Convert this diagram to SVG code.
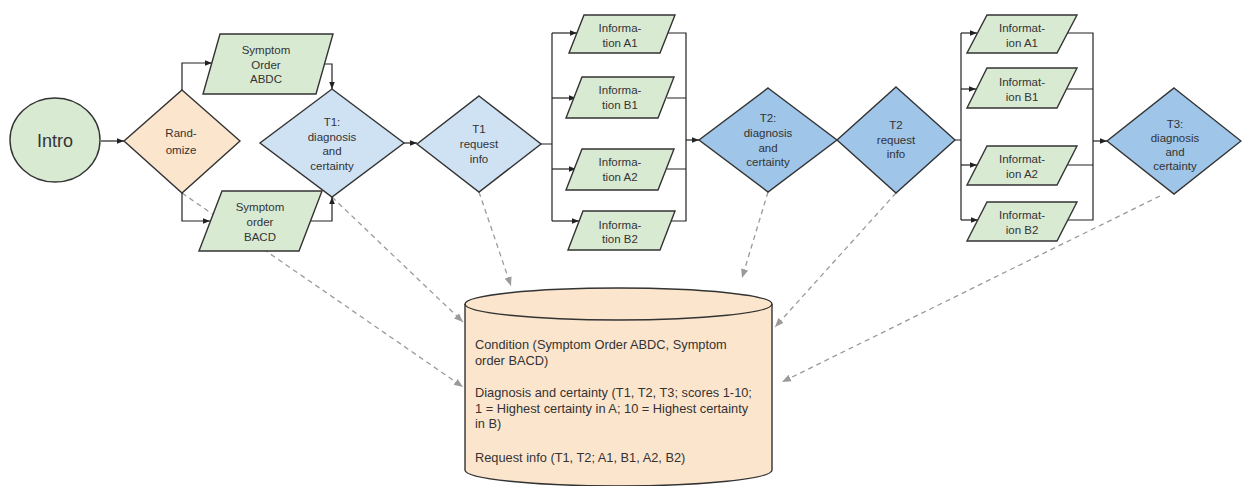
<svg xmlns="http://www.w3.org/2000/svg" width="1242" height="486" viewBox="0 0 1242 486">
<defs>
<marker id="ah" viewBox="0 0 10 10" refX="10" refY="5" markerWidth="7" markerHeight="7" markerUnits="userSpaceOnUse" orient="auto">
<path d="M0,1 L10,5 L0,9 Z" fill="#222"/>
</marker>
<marker id="ahd" viewBox="0 0 10 10" refX="10" refY="5" markerWidth="9" markerHeight="9" markerUnits="userSpaceOnUse" orient="auto">
<path d="M0,1 L10,5 L0,9 Z" fill="#9a9a9a"/>
</marker>
<style>
.n{stroke:#333;stroke-width:1.4}
.g{fill:#d9ead3}
.o{fill:#fce5cd}
.lb{fill:#cfe2f3}
.db{fill:#9fc5e8}
text{font-family:"Liberation Sans",Arial,sans-serif;fill:#333;text-anchor:middle;font-size:11.5px}
.c{stroke:#222;stroke-width:1.2;fill:none}
.d{stroke:#9a9a9a;stroke-width:1.3;fill:none;stroke-dasharray:5 4}
.cyl text{text-anchor:start;font-size:12.8px}
</style>
</defs>
<g id="connectors">
<path class="d" d="M182,193 L463,387" marker-end="url(#ahd)"/>
<path class="d" d="M332,197 L463,322" marker-end="url(#ahd)"/>
<path class="d" d="M479,192 L511,286" marker-end="url(#ahd)"/>
<path class="d" d="M768,192 L742,278" marker-end="url(#ahd)"/>
<path class="d" d="M896,193 L775,327" marker-end="url(#ahd)"/>
<path class="d" d="M1160,196 L782,382" marker-end="url(#ahd)"/>
<path class="c" d="M101,141 H124" marker-end="url(#ah)"/>
<path class="c" d="M182,90 V63 H212" marker-end="url(#ah)"/>
<path class="c" d="M182,193 V221 H210" marker-end="url(#ah)"/>
<path class="c" d="M324,64 H332 V89" marker-end="url(#ah)"/>
<path class="c" d="M310,221 H332 V197" marker-end="url(#ah)"/>
<path class="c" d="M404,143 H417" marker-end="url(#ah)"/>
<path class="c" d="M541,144 H552 M552,33 V221"/>
<path class="c" d="M552,33 H577" marker-end="url(#ah)"/>
<path class="c" d="M552,98 H576" marker-end="url(#ah)"/>
<path class="c" d="M552,169 H576" marker-end="url(#ah)"/>
<path class="c" d="M552,221 H579" marker-end="url(#ah)"/>
<path class="c" d="M668,33 H686 V221 H671 M667,98 H686 M667,169 H686"/>
<path class="c" d="M686,140 H699" marker-end="url(#ah)"/>
<path class="c" d="M955,140 H961 M961,33 V220"/>
<path class="c" d="M961,33 H977" marker-end="url(#ah)"/>
<path class="c" d="M961,89 H976" marker-end="url(#ah)"/>
<path class="c" d="M961,165 H977" marker-end="url(#ah)"/>
<path class="c" d="M961,220 H978" marker-end="url(#ah)"/>
<path class="c" d="M1067,33 H1093 V220 H1068 M1066,89 H1093 M1067,165 H1093"/>
<path class="c" d="M1093,141 H1107" marker-end="url(#ah)"/>
</g>
<g id="intro">
<ellipse class="n g" cx="55" cy="140" rx="45" ry="42"/>
<text x="55" y="147" style="font-size:18px">Intro</text>
</g>
<g id="randomize">
<polygon class="n o" points="182,90 240,141 182,193 124,141"/>
<text x="181" y="137">Rand-</text>
<text x="181" y="154">omize</text>
</g>
<g id="symptom-abdc">
<polygon class="n g" points="220,34 333,34 316,94 203,94"/>
<text x="266" y="54">Symptom</text>
<text x="266" y="68.5">Order</text>
<text x="266" y="83">ABDC</text>
</g>
<g id="symptom-bacd">
<polygon class="n g" points="222,191 322,191 299,251 199,251"/>
<text x="260" y="211">Symptom</text>
<text x="260" y="226">order</text>
<text x="260" y="241">BACD</text>
</g>
<g id="t1-diagnosis">
<polygon class="n lb" points="332,89 404,143 332,197 260,143"/>
<text x="332" y="126">T1:</text>
<text x="332" y="140.5">diagnosis</text>
<text x="332" y="155">and</text>
<text x="332" y="169.5">certainty</text>
</g>
<g id="t1-request">
<polygon class="n lb" points="479,96 541,144 479,192 417,144"/>
<text x="479" y="133">T1</text>
<text x="479" y="148">request</text>
<text x="479" y="163">info</text>
</g>
<g id="info1-a1">
<polygon class="n g" points="584,15 675,15 660,53 569,53"/>
<text x="620" y="32">Informa-</text>
<text x="620" y="47">tion A1</text>
</g>
<g id="info1-b1">
<polygon class="n g" points="582,77 674,77 658,118 566,118"/>
<text x="620" y="94">Informa-</text>
<text x="620" y="109">tion B1</text>
</g>
<g id="info1-a2">
<polygon class="n g" points="582,149 674,149 658,190 566,190"/>
<text x="620" y="166">Informa-</text>
<text x="620" y="181">tion A2</text>
</g>
<g id="info1-b2">
<polygon class="n g" points="583,211 675,211 660,250 568,250"/>
<text x="620" y="229">Informa-</text>
<text x="620" y="243">tion B2</text>
</g>
<g id="t2-diagnosis">
<polygon class="n db" points="768,88 837,140 768,192 699,140"/>
<text x="768" y="122">T2:</text>
<text x="768" y="137">diagnosis</text>
<text x="768" y="152">and</text>
<text x="768" y="166">certainty</text>
</g>
<g id="t2-request">
<polygon class="n db" points="896,87 955,140 896,193 837,140"/>
<text x="896" y="129">T2</text>
<text x="896" y="143.5">request</text>
<text x="896" y="158">info</text>
</g>
<g id="info2-a1">
<polygon class="n g" points="987,15 1077,15 1057,53 967,53"/>
<text x="1022" y="32">Informat-</text>
<text x="1022" y="47">ion A1</text>
</g>
<g id="info2-b1">
<polygon class="n g" points="987,68 1077,68 1057,108 967,108"/>
<text x="1022" y="86">Informat-</text>
<text x="1022" y="101">ion B1</text>
</g>
<g id="info2-a2">
<polygon class="n g" points="987,146 1077,146 1057,185 967,185"/>
<text x="1022" y="163">Informat-</text>
<text x="1022" y="178">ion A2</text>
</g>
<g id="info2-b2">
<polygon class="n g" points="987,202 1077,202 1057,241 967,241"/>
<text x="1022" y="219">Informat-</text>
<text x="1022" y="234">ion B2</text>
</g>
<g id="t3-diagnosis">
<polygon class="n db" points="1174,88 1241,141 1174,194 1107,141"/>
<text x="1175" y="128">T3:</text>
<text x="1175" y="142">diagnosis</text>
<text x="1175" y="156">and</text>
<text x="1175" y="170">certainty</text>
</g>
<g id="database" class="cyl">
<path class="n o" d="M465,304 A153.5,16 0 0 1 772,304 V470 A153.5,16 0 0 1 465,470 Z"/>
<path class="n" fill="none" d="M465,304 A153.5,16 0 0 0 772,304"/>
<text x="475" y="349">Condition (Symptom Order ABDC, Symptom</text>
<text x="475" y="364.5">order BACD)</text>
<text x="475" y="397">Diagnosis and certainty (T1, T2, T3; scores 1-10;</text>
<text x="475" y="413">1 = Highest certainty in A; 10 = Highest certainty</text>
<text x="475" y="428">in B)</text>
<text x="475" y="462">Request info (T1, T2; A1, B1, A2, B2)</text>
</g>
</svg>
